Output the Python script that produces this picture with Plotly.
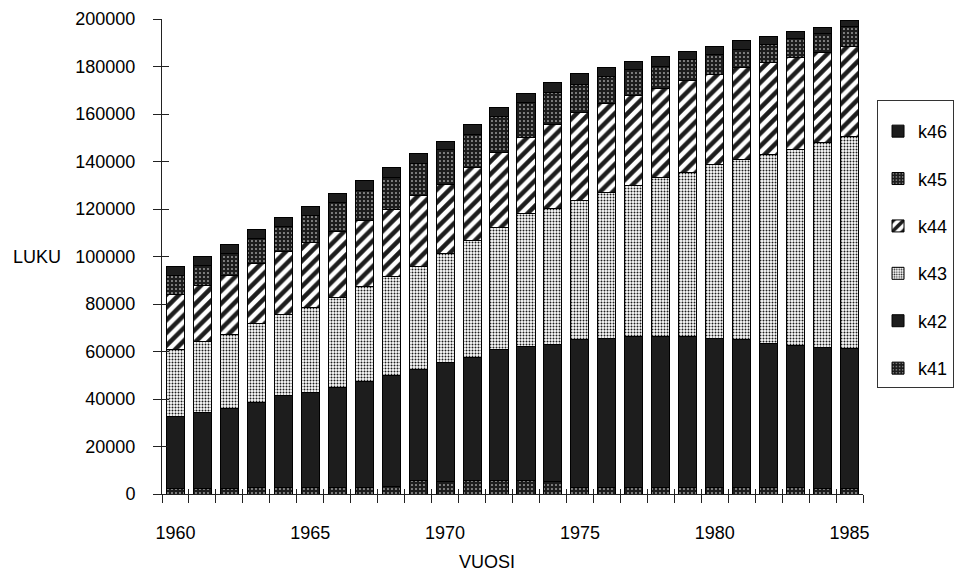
import plotly.graph_objects as go

years = list(range(1960, 1986))
k41 = [2500, 2500, 2500, 2600, 2700, 2800, 2800, 2900, 3000, 5500, 5300, 5700, 5600,
       5600, 5300, 2800, 2800, 2800, 2700, 2700, 2700, 2600, 2600, 2600, 2500, 2500]
k42 = [30100, 31900, 33700, 36000, 38600, 39900, 42000, 44400, 46700, 47000, 49900, 51900, 55200,
       56300, 57700, 62100, 62500, 63400, 63500, 63500, 62800, 62300, 60900, 59900, 59300, 58900]
k43 = [28200, 29900, 30900, 33300, 34400, 36000, 37900, 40000, 41700, 43500, 46200, 49100, 51500,
       56100, 57200, 58700, 61700, 63600, 66900, 69200, 73400, 76100, 79600, 82700, 86200, 89100]
k44 = [23300, 23700, 24800, 25100, 26200, 27300, 27800, 27800, 28600, 29800, 29000, 30700, 31600,
       32100, 35500, 37000, 37500, 37800, 37600, 38500, 37800, 38500, 38500, 38500, 37700, 38000]
k45 = [8000, 8300, 9300, 10700, 10800, 11200, 12200, 12900, 13200, 13400, 14600, 13900, 15000,
       14700, 13300, 11900, 11500, 11200, 9500, 9100, 8400, 7700, 7700, 7900, 8200, 8200]
k46 = [3500, 3900, 3700, 3600, 3800, 3900, 3900, 3800, 4200, 4000, 3500, 4200, 3900,
       3900, 4200, 4400, 3700, 3300, 4000, 3400, 3300, 3600, 3400, 3100, 2600, 2700]

label_years = [1960, 1965, 1970, 1975, 1980, 1985]
y_ticks = list(range(0, 200001, 20000))

BLACK = "#1d1d1d"
FONT = dict(family="Liberation Sans, Arial, sans-serif", size=18, color="#000000")

series = [
    ("k41", k41, dict(shape=".", bgcolor=BLACK, fgcolor="#ffffff", size=4, solidity=0.12)),
    ("k42", k42, None),
    ("k43", k43, dict(shape=".", bgcolor="#ffffff", fgcolor=BLACK, size=3, solidity=0.35)),
    ("k44", k44, dict(shape="/", bgcolor="#ffffff", fgcolor=BLACK, size=9, solidity=0.5)),
    ("k45", k45, dict(shape=".", bgcolor=BLACK, fgcolor="#ffffff", size=4, solidity=0.12)),
    ("k46", k46, None),
]

fig = go.Figure()
n = len(series)
for i, (name, vals, pat) in enumerate(series):
    marker = dict(color=BLACK, line=dict(color="#000000", width=1))
    if pat is not None:
        marker["color"] = pat["bgcolor"]
        marker["pattern"] = dict(shape=pat["shape"], bgcolor=pat["bgcolor"], fgcolor=pat["fgcolor"],
                                 size=pat["size"], solidity=pat["solidity"], fillmode="replace")
    fig.add_trace(go.Bar(x=years, y=vals, name=name, marker=marker, width=0.67,
                         legendgroup=name, legendrank=n - i))

# hidden helper traces so that the secondary axes (inner tick halves) are drawn
fig.add_trace(go.Scatter(x=years, y=k41, xaxis="x2", yaxis="y", mode="markers",
                         marker=dict(opacity=0), showlegend=False, hoverinfo="skip"))
fig.add_trace(go.Scatter(x=years, y=k41, xaxis="x", yaxis="y2", mode="markers",
                         marker=dict(opacity=0), showlegend=False, hoverinfo="skip"))

boundaries = [y - 0.5 for y in years] + [years[-1] + 0.5]
xr = [years[0] - 0.5, years[-1] + 0.5]
yr = [0, 200000]

fig.update_layout(
    barmode="stack",
    width=955, height=565,
    margin=dict(l=154, r=100, t=11, b=79, autoexpand=False),
    paper_bgcolor="white", plot_bgcolor="white",
    font=FONT,
    showlegend=True,
    legend=dict(x=1.02, xanchor="left", y=0.829, yanchor="top",
                bordercolor="#333333", borderwidth=1, bgcolor="white",
                traceorder="grouped", tracegroupgap=21,
                title=dict(text=" ", font=dict(size=9)),
                font=FONT),
    xaxis=dict(range=xr, tickmode="array", tickvals=label_years,
               ticktext=[str(v) for v in label_years], ticks="", ticklabelstandoff=22,
               minor=dict(tickmode="array", tickvals=boundaries, ticks="outside", ticklen=8,
                          tickcolor="#222", showgrid=False),
               showline=True, linecolor="#222", linewidth=1, showgrid=False, zeroline=False,
               tickfont=FONT),
    xaxis2=dict(overlaying="x", range=xr, side="bottom", anchor="y", tickmode="array",
                tickvals=boundaries, showticklabels=False, ticks="inside", ticklen=5,
                tickcolor="#222", showline=False, showgrid=False, zeroline=False),
    yaxis=dict(range=yr, tickmode="array", tickvals=y_ticks, tickformat="d",
               ticks="outside", ticklen=8, tickcolor="#222", showline=True, linecolor="#222",
               linewidth=1, showgrid=False, zeroline=False, ticklabelstandoff=14, tickfont=FONT,
               ticklabeloverflow="allow"),
    yaxis2=dict(overlaying="y", range=yr, side="left", anchor="x", tickmode="array",
                tickvals=y_ticks, showticklabels=False, ticks="inside", ticklen=7,
                tickcolor="#222", showline=False, showgrid=False, zeroline=False),
    annotations=[
        dict(text="LUKU", xref="paper", yref="paper", x=-0.178, y=0.499, xanchor="center",
             yanchor="middle", showarrow=False, font=FONT),
        dict(text="VUOSI", xref="paper", yref="paper", x=0.464, y=-0.143, xanchor="center",
             yanchor="middle", showarrow=False, font=FONT),
    ],
)

fig.write_html("out.html")
